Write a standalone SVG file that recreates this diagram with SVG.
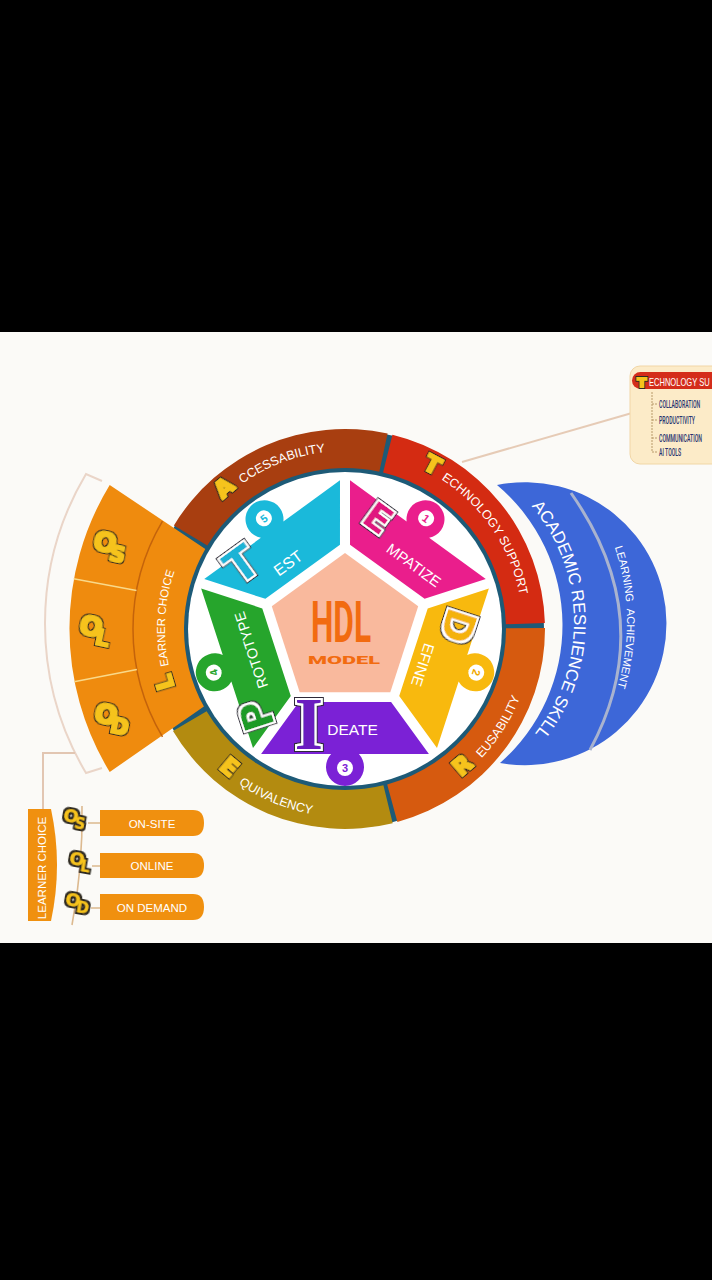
<svg xmlns="http://www.w3.org/2000/svg" width="712" height="1280" viewBox="0 0 712 1280">
<defs>
<style>
.rt{font-family:"Liberation Sans",Arial,sans-serif;font-size:12.5px;fill:#fff}
.ini{font-family:"DejaVu Sans",sans-serif;font-weight:bold;font-size:23px;fill:#f6c31c;text-anchor:middle}
.lab{font-family:"Liberation Sans",Arial,sans-serif;fill:#fff;text-anchor:middle}
.num{font-family:"Liberation Sans",Arial,sans-serif;font-weight:bold;font-size:11px;text-anchor:middle}
.big{font-family:"DejaVu Sans",sans-serif;font-weight:bold;text-anchor:middle}
.bub{font-family:"DejaVu Sans",sans-serif;font-weight:bold;fill:#f6c31c}
.pill{fill:#f0900f}
.pt{font-family:"Liberation Sans",Arial,sans-serif;font-size:11.5px;fill:#fff;text-anchor:middle}
.con{fill:none;stroke:#e6cbb6;stroke-width:2}
.tree{font-family:Roboto,"Liberation Sans",sans-serif;font-weight:500;font-size:10px;fill:#27336f}
</style>
<filter id="bubble" x="-30%" y="-30%" width="160%" height="160%">
<feMorphology in="SourceAlpha" operator="dilate" radius="2.3" result="a"/>
<feFlood flood-color="#2e2a22"/>
<feComposite in2="a" operator="in" result="ol"/>
<feMorphology in="SourceGraphic" operator="dilate" radius="0.9" result="fat"/>
<feMerge><feMergeNode in="ol"/><feMergeNode in="fat"/></feMerge>
</filter>
<filter id="bubs" x="-30%" y="-30%" width="160%" height="160%">
<feMorphology in="SourceAlpha" operator="dilate" radius="1.6" result="a"/>
<feFlood flood-color="#2e2a22"/>
<feComposite in2="a" operator="in" result="ol"/>
<feMorphology in="SourceGraphic" operator="dilate" radius="0.5" result="fat"/>
<feMerge><feMergeNode in="ol"/><feMergeNode in="fat"/></feMerge>
</filter>
<filter id="lfx" x="-30%" y="-30%" width="160%" height="160%">
<feMorphology in="SourceAlpha" operator="dilate" radius="3" result="a3"/>
<feFlood flood-color="#2d2a38"/>
<feComposite in2="a3" operator="in" result="dk"/>
<feMorphology in="SourceAlpha" operator="dilate" radius="1.6" result="a2"/>
<feFlood flood-color="#ffffff"/>
<feComposite in2="a2" operator="in" result="wh"/>
<feMerge><feMergeNode in="dk"/><feMergeNode in="wh"/><feMergeNode in="SourceGraphic"/></feMerge>
</filter>
<path id="pc" d="M-46.1,-72 L46.1,-72 L83.9,-124 L13.9,-124 A19,19 0 1 0 -13.9,-124 L-83.9,-124 Z"/>
<path id="pAcc" d="M223.6,498.8 A178,178 0 0 1 405.9,461.7"/>
<path id="pTS" d="M420.2,467.7 A178,178 0 0 1 522.3,644.5"/>
<path id="pReu" d="M460.7,777.1 A188,188 0 0 0 533,629"/>
<path id="pEqu" d="M216.8,766.5 A188,188 0 0 0 377.6,814.1"/>
<path id="pLC" d="M174.3,686.1 A180,180 0 0 1 197.5,525.8"/>
<path id="pARS" d="M530.1,504.6 A179,179 0 0 1 532.1,737.1"/>
<path id="pLA" d="M613,542.7 A232,232 0 0 1 613,701.3"/>
</defs>

<rect width="712" height="1280" fill="#000"/>
<rect y="332" width="712" height="611" fill="#fbfaf7"/>

<g id="connectors" class="con">
<line x1="462" y1="462" x2="632" y2="413"/>
<path d="M102,481 L86,474 A293,293 0 0 0 86,773 L102,768" stroke="#ead5c8"/>
<path d="M75,753 H43 V809" stroke="#e2c6b2"/>
<path d="M82,806 Q83,868 72,925" stroke="#dcb98f" stroke-width="1.6"/>
<path d="M88,823 H100 M92,866 H100 M91,908 H100" stroke="#dcb98f" stroke-width="1.6"/>
</g>

<g id="outcomes">
<path d="M497,485 A141.5,141.5 0 1 1 500,763 A183,183 0 0 0 497,485 Z" fill="#3d67d8"/>
<path d="M571,493 Q660,620 590,750" fill="none" stroke="#a9b3cf" stroke-width="3"/>
<text font-family="Liberation Sans,Arial,sans-serif" font-size="17" fill="#fff"><textPath href="#pARS" startOffset="2">ACADEMIC RESILIENCE SKILL</textPath></text>
<text font-family="Liberation Sans,Arial,sans-serif" font-size="11" fill="#fff" word-spacing="4"><textPath href="#pLA" startOffset="5">LEARNING ACHIEVEMENT</textPath></text>
</g>

<g id="ring">
<circle cx="345" cy="629" r="199" fill="#1d5a77"/>
<path id="seg-accessability" d="M173.9,525.4 A200,200 0 0 1 387.6,433.6 L379.3,471.7 A161,161 0 0 0 207.3,545.6 Z" fill="#a83e10"/>
<path id="seg-technology" d="M392.4,434.7 A200,200 0 0 1 544.9,623.1 L505.9,624.2 A161,161 0 0 0 383.1,472.6 Z" fill="#d42b12"/>
<path id="seg-reusability" d="M545,628 A200,200 0 0 1 397.4,822 L387.2,784.4 A161,161 0 0 0 506,628.2 Z" fill="#d65a0f"/>
<path id="seg-equivalency" d="M392.7,823.2 A200,200 0 0 1 173,731.1 L206.6,711.2 A161,161 0 0 0 383.4,785.3 Z" fill="#b38b10"/>
<path id="seg-learner" d="M109.7,772 A276,276 0 0 1 109.7,485 L205.3,549 A161,161 0 0 0 203.9,706.6 Z" fill="#ef8b0e"/>
<path d="M162.5,736.9 A212,212 0 0 1 162.5,521.1" fill="none" stroke="#c4630b" stroke-width="1.5"/>
<path d="M136.5,590.4 L73.6,578.7 M136.9,669.4 L74.1,681.7" stroke="#f9d98a" stroke-width="1.5"/>
<circle cx="345" cy="629" r="157" fill="#fff"/>
</g>

<g id="ring-labels">
<text class="ini" filter="url(#bubble)" transform="translate(229.4,493.7) rotate(-40.5)">A</text>
<text class="rt"><textPath href="#pAcc" startOffset="24">CCESSABILITY</textPath></text>
<text class="ini" filter="url(#bubble)" transform="translate(428.6,471.8) rotate(28)">T</text>
<text class="rt"><textPath href="#pTS" startOffset="24">ECHNOLOGY SUPPORT</textPath></text>
<text class="ini" filter="url(#bubble)" transform="translate(467.6,771.5) rotate(-40.7)">R</text>
<text class="rt"><textPath href="#pReu" startOffset="28">EUSABILITY</textPath></text>
<text class="ini" filter="url(#bubble)" transform="translate(224.2,773) rotate(40)">E</text>
<text class="rt"><textPath href="#pEqu" startOffset="28">QUIVALENCY</textPath></text>
<text class="ini" filter="url(#bubble)" transform="translate(172.4,680.1) rotate(-106.5)">L</text>
<text class="rt" style="font-size:11.5px"><textPath href="#pLC" startOffset="21">EARNER CHOICE</textPath></text>
</g>

<g id="learner-options-fan">
<text class="bub" filter="url(#bubble)" transform="translate(110,546) rotate(12)" font-size="27" x="-17" y="7">O<tspan font-size="22" dx="-5" dy="7">S</tspan></text>
<text class="bub" filter="url(#bubble)" transform="translate(96,630) rotate(12)" font-size="27" x="-17" y="7">O<tspan font-size="22" dx="-5" dy="7">L</tspan></text>
<text class="bub" filter="url(#bubble)" transform="translate(111,718) rotate(12)" font-size="27" x="-17" y="7">O<tspan font-size="22" dx="-5" dy="7">D</tspan></text>
</g>

<g id="hdl-model">
<polygon points="345,553 418.2,606.2 390.3,692.3 299.7,692.3 271.8,606.2" fill="#f9b99d"/>
<text x="341" y="642" text-anchor="middle" font-family="Roboto,'Liberation Sans',sans-serif" font-weight="bold" font-size="58" fill="#f26b10" textLength="60" lengthAdjust="spacingAndGlyphs">HDL</text>
<text x="344" y="664" text-anchor="middle" font-family="Roboto,'Liberation Sans',sans-serif" font-weight="900" font-size="11" fill="#f26b10" textLength="72" lengthAdjust="spacingAndGlyphs">MODEL</text>
</g>

<g id="empatize" transform="translate(345,630) rotate(36)">
<use href="#pc" fill="#ea1e8c"/>
<circle cx="0" cy="-138" r="8" fill="#fff"/>
<text class="num" x="0" y="-134" fill="#ea1e8c">1</text>
<text class="big" filter="url(#lfx)" x="-39" y="-97" font-size="38" fill="#e0177f">E</text>
<text class="lab" x="17.6" y="-87.6" font-size="15">MPATIZE</text>
</g>

<g id="define" transform="translate(345,630) rotate(108)">
<use href="#pc" fill="#f8b90e"/>
<circle cx="0" cy="-138" r="8" fill="#fff"/>
<text class="num" x="0" y="-134" fill="#f0a800">2</text>
<text class="big" filter="url(#lfx)" x="-39" y="-92" font-size="40" fill="#f4b20a">D</text>
<text class="lab" x="9.2" y="-79.6" font-size="15">EFINE</text>
</g>

<g id="ideate" transform="translate(345,630)">
<use href="#pc" transform="rotate(180)" fill="#7b21d6"/>
<circle cx="0" cy="138" r="8" fill="#fff"/>
<text class="num" x="0" y="142" fill="#7b21d6">3</text>
<text class="big" filter="url(#lfx)" x="-36" y="119" font-size="74" fill="#6a1cc0" style="font-family:'Liberation Serif','DejaVu Serif',serif">I</text>
<text class="lab" x="7.5" y="105" font-size="15.5">DEATE</text>
</g>

<g id="prototype" transform="translate(345,630) rotate(-108)">
<use href="#pc" fill="#26a52c"/>
<circle cx="0" cy="-138" r="8" fill="#fff"/>
<text class="num" x="0" y="-134" fill="#26a52c">4</text>
<text class="big" filter="url(#lfx)" x="-54" y="-96" font-size="40" fill="#1f9a26">P</text>
<text class="lab" x="10" y="-90.4" font-size="14.5">ROTOTYPE</text>
</g>

<g id="test" transform="translate(345,630) rotate(-36)">
<use href="#pc" fill="#1ab9da"/>
<circle cx="0" cy="-138" r="8" fill="#fff"/>
<text class="num" x="0" y="-134" fill="#1ab9da">5</text>
<text class="big" filter="url(#lfx)" x="-45" y="-98" font-size="44" fill="#1ab3d5">T</text>
<text class="lab" x="-6.7" y="-82" font-size="16">EST</text>
</g>

<g id="tech-callout">
<rect x="630" y="366" width="100" height="98" rx="10" fill="#fcebc8" stroke="#f1d6a6"/>
<rect x="632" y="372" width="100" height="17" rx="8.5" fill="#d42d1a"/>
<text x="642" y="387" class="ini" filter="url(#bubs)" style="font-size:13px">T</text>
<text transform="translate(649,385.5) scale(0.72,1)" font-family="Liberation Sans,Arial,sans-serif" font-size="10.5" fill="#fff">ECHNOLOGY SU</text>
<path d="M652,392 V452 M652,404 H658 M652,420 H658 M652,438 H658 M652,452 H658" stroke="#b89a6a" stroke-width="1" stroke-dasharray="2 1" fill="none"/>
<text class="tree" transform="translate(659,408) scale(0.52,1)">COLLABORATION</text>
<text class="tree" transform="translate(659,423.5) scale(0.52,1)">PRODUCTIVITY</text>
<text class="tree" transform="translate(659,442) scale(0.52,1)">COMMUNICATION</text>
<text class="tree" transform="translate(659,455.5) scale(0.52,1)">AI TOOLS</text>
</g>

<g id="learner-choice-box">
<path d="M28,809 L51,809 Q63,865 51,921 L28,921 Z" fill="#f0900f"/>
<text class="pt" transform="translate(46,868) rotate(-90)" font-size="11">LEARNER CHOICE</text>
</g>

<g id="on-site">
<text class="bub" filter="url(#bubs)" transform="translate(75,819) rotate(10)" font-size="18" x="-12" y="4">O<tspan font-size="15" dx="-3" dy="5">S</tspan></text>
<path class="pill" d="M100,810 H193 Q204,810 204,823 Q204,836 193,836 H100 Z"/>
<text class="pt" x="152" y="828">ON-SITE</text>
</g>
<g id="online">
<text class="bub" filter="url(#bubs)" transform="translate(81,862) rotate(10)" font-size="18" x="-12" y="4">O<tspan font-size="15" dx="-3" dy="5">L</tspan></text>
<path class="pill" d="M100,853 H193 Q204,853 204,865.5 Q204,878 193,878 H100 Z"/>
<text class="pt" x="152" y="870">ONLINE</text>
</g>
<g id="on-demand">
<text class="bub" filter="url(#bubs)" transform="translate(77,903) rotate(10)" font-size="18" x="-12" y="4">O<tspan font-size="15" dx="-3" dy="5">D</tspan></text>
<path class="pill" d="M100,894 H193 Q204,894 204,907 Q204,920 193,920 H100 Z"/>
<text class="pt" x="152" y="911.5">ON DEMAND</text>
</g>
</svg>
